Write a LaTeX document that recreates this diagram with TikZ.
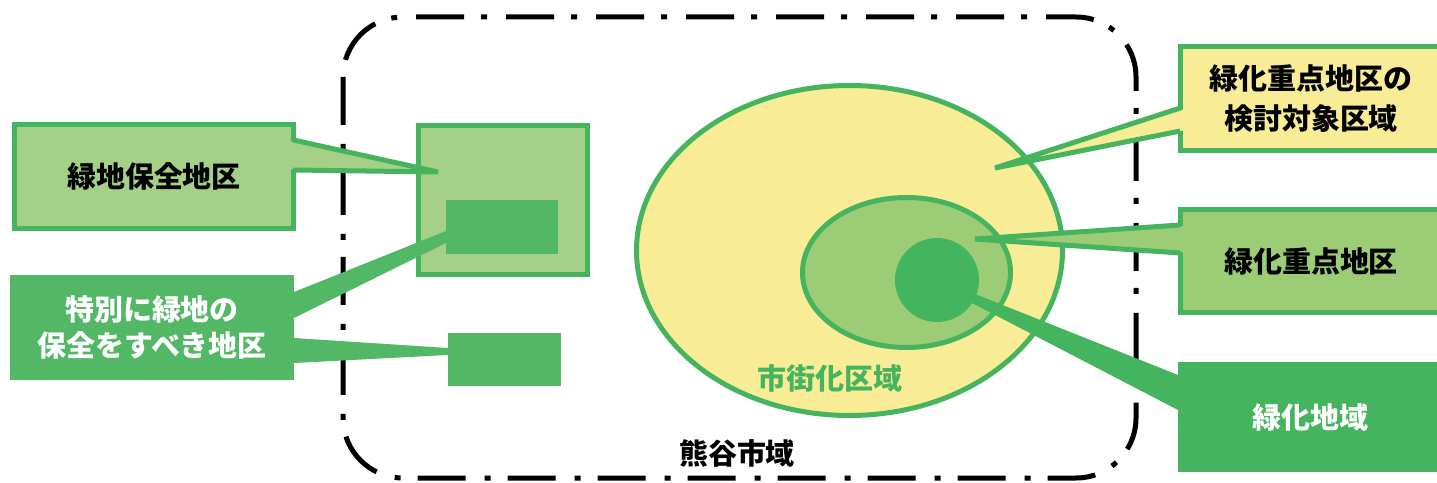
\documentclass[tikz,border=0pt]{standalone}
\usepackage{fontspec}
\setmainfont{Noto Sans CJK JP}
\usetikzlibrary{calc}

\definecolor{lineGreen}{RGB}{70,180,94}
\definecolor{hozenFill}{RGB}{165,208,135}
\definecolor{jutenFill}{RGB}{157,204,119}
\definecolor{tokuFill}{RGB}{82,184,102}
\definecolor{ryokuFill}{RGB}{69,180,94}
\definecolor{kentoFill}{RGB}{248,237,150}

\begin{document}
\begin{tikzpicture}[x=0.02cm, y=-0.02cm,
    jp/.style={font=\fontsize{16.5pt}{22pt}\selectfont\bfseries},
    box/.style={jp, draw=lineGreen, line width=0.1cm, inner sep=0pt, outer sep=0pt, align=center},
    flatbox/.style={jp, inner sep=0pt, outer sep=0pt, align=center},
    tailline/.style={draw=lineGreen, line width=0.1cm, line join=bevel}]
  \useasboundingbox (0,0) rectangle (1437,483);

  % Kumagaya city boundary (dash-dot)
  \draw[line width=0.1cm, rounded corners=1.2cm,
        dash pattern=on 0.96cm off 0.38cm on 0.12cm off 0.34cm]
    (343,17) rectangle (1136,478);
  \node[jp] (kumagaya) at (737,453) {熊谷市域};

  % Urbanisation area and greening areas
  \draw[line width=0.1cm, draw=lineGreen, fill=kentoFill] (849.5,250.5) ellipse [x radius=213, y radius=165];
  \draw[line width=0.1cm, draw=lineGreen, fill=jutenFill] (906.5,272.5) ellipse [x radius=104, y radius=75];
  \fill[ryokuFill] (937,280) circle [radius=42];
  \node[jp, text=lineGreen] (shigaika) at (830,378) {市街化区域};

  % Green conservation districts
  \node[box, fill=hozenFill, minimum width=3.38cm, minimum height=2.98cm] (hozenA) at (503,200) {};
  \node[flatbox, fill=tokuFill, minimum width=2.24cm, minimum height=1.08cm] (tokuA) at (502,227) {};
  \node[flatbox, fill=tokuFill, minimum width=2.26cm, minimum height=1.06cm] (tokuB) at (504.5,359.5) {};

  % Labels on the left
  \node[box, fill=hozenFill, minimum width=5.58cm, minimum height=2.08cm] (hozen) at (154,176.5) {緑地保全地区};
  \node[flatbox, fill=tokuFill, text=white, minimum width=5.68cm, minimum height=2.1cm,
        font=\fontsize{16.5pt}{21pt}\selectfont\bfseries] (tokubetsu) at (152,327.5) {特別に緑地の\\保全をすべき地区};

  % Labels on the right
  \node[box, fill=kentoFill, minimum width=5.23cm, minimum height=2.08cm,
        font=\fontsize{16.5pt}{23pt}\selectfont\bfseries] (kento) at (1311,98.5) {緑化重点地区の\\検討対象区域};
  \node[box, fill=jutenFill, minimum width=5.23cm, minimum height=2.06cm] (juten) at (1311,261) {緑化重点地区};
  \node[flatbox, fill=ryokuFill, text=white, minimum width=5.28cm, minimum height=2.2cm] (ryokuka) at (1310,417) {緑化地域};

  % Callout tips
  \coordinate (hozenTip) at (438,172);
  \coordinate (kentoTip) at (995,168);
  \coordinate (jutenTip) at (975,239);

  % Callout tails, left
  \fill[hozenFill] ($(hozen.east |- 0,141)+(-5,0)$) -- (hozenTip) -- ($(hozen.east |- 0,169)+(-5,0)$) -- cycle;
  \path[tailline] (hozen.east |- 0,140) -- (hozenTip) -- (hozen.east |- 0,170);
  \fill[tokuFill] (tokubetsu.east |- 0,292) -- (tokuA.west |- 0,231) -- (tokuA.west |- 0,243) -- (tokubetsu.east |- 0,318) -- cycle;
  \fill[tokuFill] (tokubetsu.east |- 0,338) -- (tokuB.west |- 0,348) -- (tokuB.west |- 0,355) -- (tokubetsu.east |- 0,363) -- cycle;

  % Callout tails, right
  \fill[kentoFill] ($(kento.west |- 0,109)+(5,0)$) -- (kentoTip) -- ($(kento.west |- 0,130)+(5,0)$) -- cycle;
  \path[tailline] (kento.west |- 0,108) -- (kentoTip) -- (kento.west |- 0,131);
  \fill[jutenFill] ($(juten.west |- 0,226)+(5,0)$) -- (jutenTip) -- ($(juten.west |- 0,252)+(5,0)$) -- cycle;
  \path[tailline] (juten.west |- 0,225) -- (jutenTip) -- (juten.west |- 0,253);
  \fill[ryokuFill] (970,292) -- (ryokuka.west |- 0,375) -- (ryokuka.west |- 0,410) -- (970,302) -- cycle;
\end{tikzpicture}
\end{document}
